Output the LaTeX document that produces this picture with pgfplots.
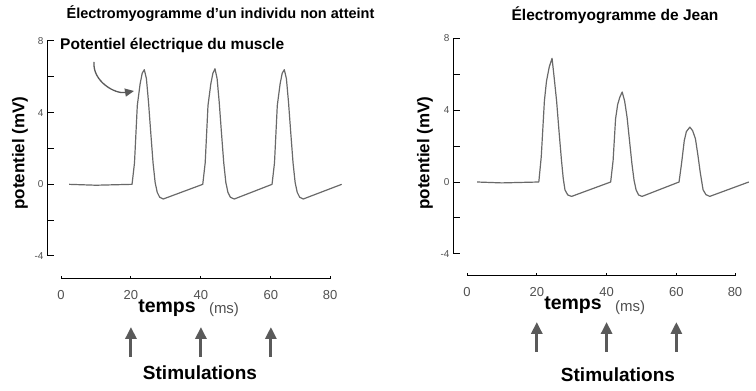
\documentclass[border=0pt]{standalone}
\usepackage{fontspec}
\setmainfont{Liberation Sans}
\usepackage{pgfplots}
\pgfplotsset{compat=1.18}
\usetikzlibrary{arrows.meta}
\definecolor{trace}{RGB}{105,105,105}
\definecolor{arr}{RGB}{90,90,90}
\definecolor{ticklab}{RGB}{80,80,80}

\pgfplotsset{
 yax/.style={scale only axis, width=301pt, height=215pt, xmin=-4, xmax=82, ymin=-4, ymax=8,
   axis x line=none, axis y line*=left, ytick={-4,-2,...,8}, yticklabels={-4,,0,,4,,8},
   tick align=inside, major tick length=7pt, axis line style={line width=1pt},
   tick style={black, line width=1pt},
   yticklabel style={font=\fontsize{10}{10}\selectfont, text=ticklab},
   /pgf/number format/assume math mode=true, clip=false, anchor=south west},
 xax/.style={scale only axis, height=10pt, ymin=0, ymax=1, axis y line=none, axis x line*=bottom,
   xmin=0, tick align=inside, major tick length=3pt, axis line style={line width=1pt},
   tick style={black, line width=1pt},
   xticklabels={0,20,40,60,80},
   xticklabel style={font=\fontsize{13}{13}\selectfont, text=ticklab, yshift=-8pt},
   /pgf/number format/assume math mode=true, anchor=south west, clip=false},
 trc/.style={trace, line width=1.2pt, line join=round}
}

\begin{document}
\begin{tikzpicture}[x=1pt,y=1pt]
\path (0,0) rectangle (756,391);

% ---------------- left panel ----------------
\begin{axis}[yax, at={(47pt,135pt)}]
\addplot[trc] coordinates {
(2.3,0) (10,-0.05) (20.3,0) (21.0,1.2) (21.8,4.4) (22.6,5.6) (23.2,6.2) (23.8,6.4) (24.4,5.9)
(25.0,4.6) (25.6,3.0) (26.3,1.2) (26.9,0.1) (27.5,-0.45) (28.2,-0.72) (29.2,-0.82)
(40.5,0) (41.2,1.2) (42.0,4.4) (42.8,5.6) (43.4,6.2) (44.0,6.45) (44.6,5.9)
(45.2,4.6) (45.8,3.0) (46.5,1.2) (47.1,0.1) (47.7,-0.45) (48.4,-0.72) (49.5,-0.82)
(60.3,0) (61.0,1.2) (61.8,4.4) (62.6,5.6) (63.2,6.2) (63.8,6.4) (64.4,5.9)
(65.0,4.6) (65.6,3.0) (66.3,1.2) (66.9,0.1) (67.5,-0.45) (68.2,-0.72) (69.2,-0.82)
(80.2,0)};
\end{axis}
\begin{axis}[xax, at={(61pt,112pt)}, width=269pt, xmax=76.9, xtick={0,20,40,60,76.9}]
\coordinate (L20) at (axis cs:20,0);
\coordinate (L40) at (axis cs:40,0);
\coordinate (L60) at (axis cs:60,0);
\end{axis}

% ---------------- right panel ----------------
\begin{axis}[yax, at={(453pt,137pt)}, width=300pt, height=216pt]
\addplot[trc] coordinates {
(2.9,0) (10,-0.05) (20.6,0) (21.3,1.4) (22.2,4.5) (22.8,5.6) (23.6,6.4) (24.4,6.87) (25.0,5.8)
(25.7,4.5) (26.4,2.8) (27.1,1.2) (27.6,0.2) (28.1,-0.44) (28.9,-0.72) (30.0,-0.8)
(41.2,0) (41.9,1.2) (42.6,3.5) (43.2,4.3) (43.8,4.7) (44.5,5.0) (45.2,4.5)
(45.9,3.6) (46.6,2.3) (47.3,1.0) (47.9,0.1) (48.5,-0.45) (49.2,-0.72) (50.2,-0.8)
(60.8,0) (61.5,1.0) (62.3,2.3) (62.9,2.8) (63.9,3.05) (64.7,2.85) (65.5,2.4)
(66.2,1.5) (66.9,0.5) (67.7,-0.44) (68.5,-0.7) (69.6,-0.8)
(80.8,0)};
\end{axis}
\begin{axis}[xax, at={(467pt,115pt)}, width=268pt, xmax=76.8, xtick={0,20,40,60,76.8}]
\coordinate (R20) at (axis cs:20,0);
\coordinate (R40) at (axis cs:40,0);
\coordinate (R60) at (axis cs:60,0);
\end{axis}

% ---------------- stimulation arrows ----------------
\foreach \c in {L20,L40,L60}{
  \draw[arr, line width=3pt, -{Triangle[length=12pt,width=11pt]}] (\c |- 0,34) -- (\c |- 0,64);
}
\foreach \c in {R20,R40,R60}{
  \draw[arr, line width=3pt, -{Triangle[length=12pt,width=11pt]}] (\c |- 0,39) -- (\c |- 0,69);
}

% ---------------- texts ----------------
\node[font=\bfseries\fontsize{14.5}{14.5}\selectfont] at (220.5,377) {Électromyogramme d’un individu non atteint};
\node[font=\bfseries\fontsize{15.5}{15.5}\selectfont] at (615,376) {Électromyogramme de Jean};
\node[font=\bfseries\fontsize{15.5}{15.5}\selectfont, anchor=west, inner sep=0pt] at (60,346) {Potentiel électrique du muscle};
\draw[arr, line width=1.3pt, -{Triangle[length=9pt,width=8pt]}] (94,329) to[out=-95,in=190] (134,300);

\node[rotate=90, font=\bfseries\fontsize{17}{17}\selectfont] at (20,238) {potentiel (mV)};
\node[rotate=90, font=\bfseries\fontsize{17}{17}\selectfont] at (425,238) {potentiel (mV)};

\node[font=\bfseries\fontsize{19.5}{19.5}\selectfont, anchor=base, inner sep=0pt] at (167,78) {temps};
\node[font=\fontsize{15}{15}\selectfont, text=ticklab, anchor=base, inner sep=0pt] at (224,77) {(ms)};
\node[font=\bfseries\fontsize{19.5}{19.5}\selectfont, anchor=base, inner sep=0pt] at (573,81) {temps};
\node[font=\fontsize{15}{15}\selectfont, text=ticklab, anchor=base, inner sep=0pt] at (630,79) {(ms)};

\node[font=\bfseries\fontsize{19}{19}\selectfont, anchor=base, inner sep=0pt] at (200,11) {Stimulations};
\node[font=\bfseries\fontsize{19}{19}\selectfont, anchor=base, inner sep=0pt] at (618,9) {Stimulations};
\end{tikzpicture}
\end{document}
